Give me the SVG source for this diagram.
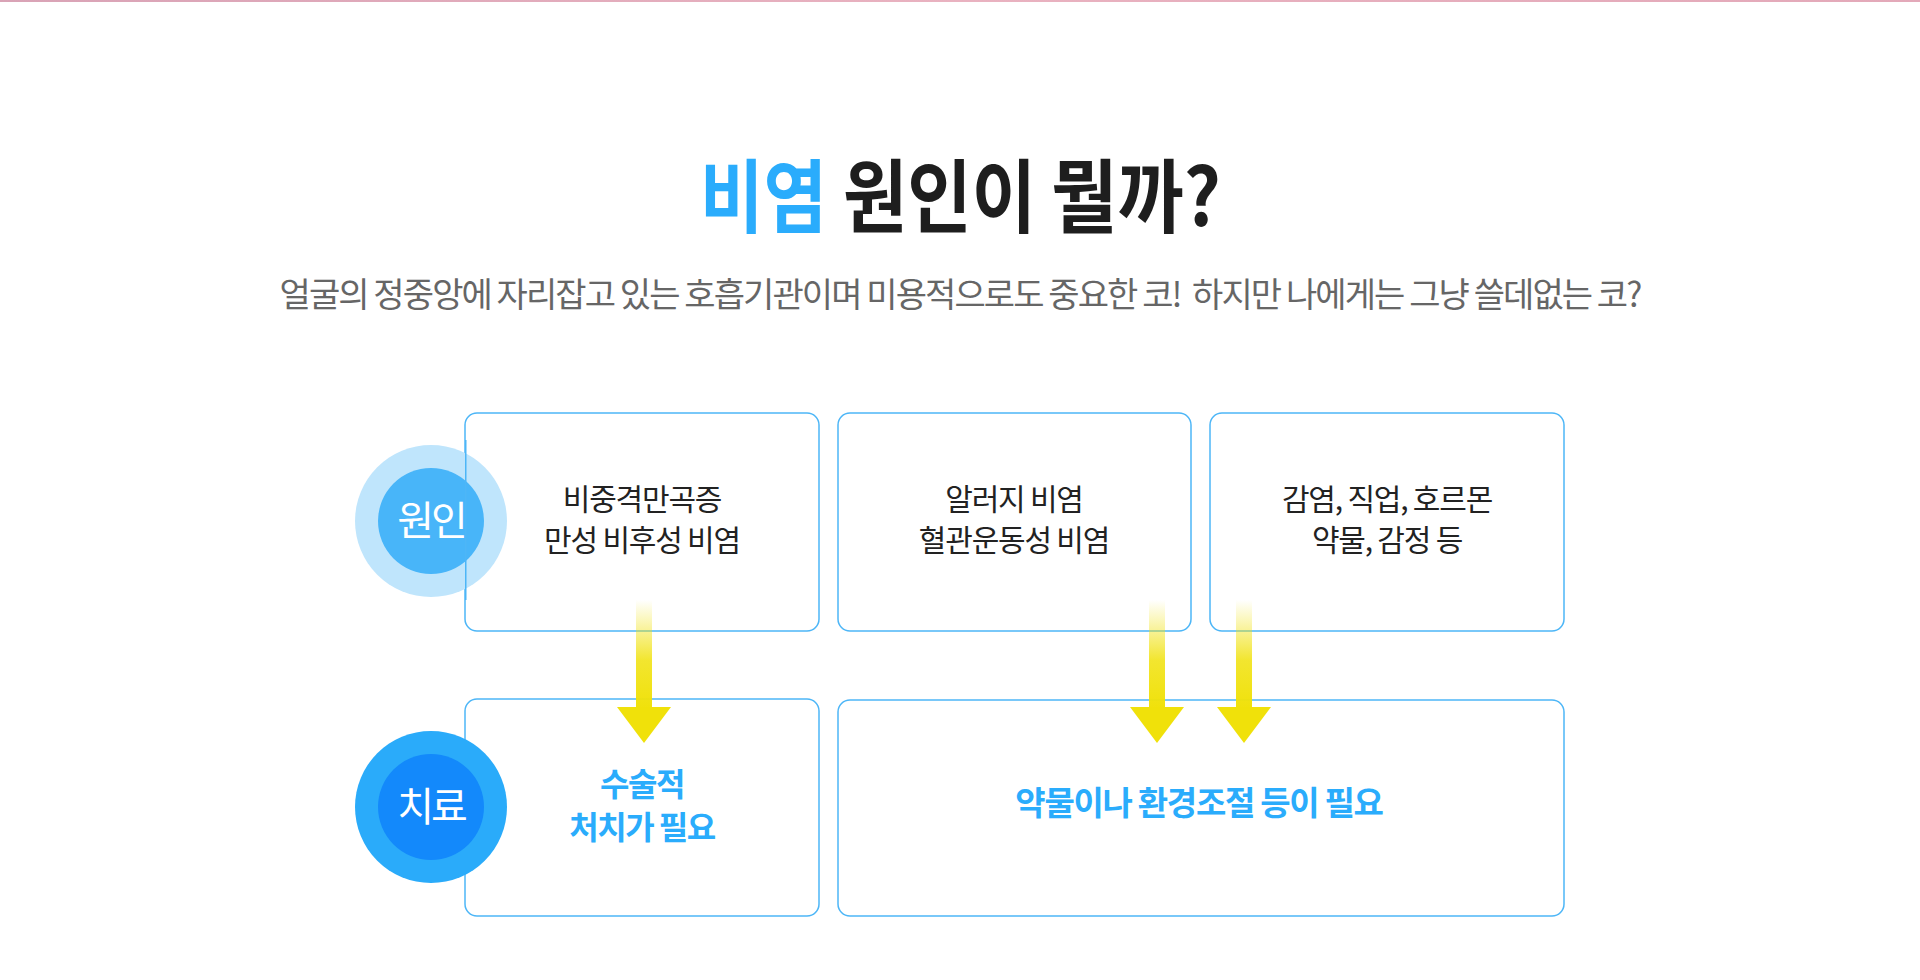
<svg xmlns="http://www.w3.org/2000/svg" width="1920" height="980" viewBox="0 0 1920 980">
  <defs>
    <linearGradient id="topline" x1="0" y1="0" x2="1" y2="0">
      <stop offset="0" stop-color="#d9a3b6"/>
      <stop offset="0.5" stop-color="#e9b2c0"/>
      <stop offset="1" stop-color="#e3a9b9"/>
    </linearGradient>
    <linearGradient id="shaft" x1="0" y1="0" x2="0" y2="1">
      <stop offset="0" stop-color="#f0e10a" stop-opacity="0"/>
      <stop offset="0.55" stop-color="#f0e10a" stop-opacity="0.85"/>
      <stop offset="1" stop-color="#f0e10a" stop-opacity="1"/>
    </linearGradient>
    <g id="arrow">
      <rect x="-8" y="0" width="16" height="110" fill="url(#shaft)"/>
      <polygon points="-27,107 27,107 0,143" fill="#f0e10a"/>
    </g>
  </defs>
  <style>
    .box { fill: #ffffff; stroke: #4db6f7; stroke-width: 1.5; }
    .boxline { fill: none; stroke: #4db6f7; stroke-width: 1.5; }
    .t { font-family: "Noto Sans CJK KR", "Noto Sans", sans-serif; text-anchor: middle; }
    .h { font-family: "Noto Sans CJK KR", "Noto Sans", sans-serif; font-size: 80px; font-weight: 700; }
    .cause { font-size: 30px; fill: #222222; letter-spacing: -1.2px; }
    .treat { font-size: 32px; font-weight: 700; fill: #2aacfc; letter-spacing: -1.5px; }
    .treat2 { font-size: 33px; font-weight: 700; fill: #2aacfc; letter-spacing: -1.3px; }
    .badge { font-size: 40px; fill: #ffffff; letter-spacing: -3px; }
  </style>

  <rect x="0" y="0" width="1920" height="2" fill="url(#topline)"/>

  <g id="title">
    <text class="h" x="700" y="226" fill="#2aacfc" textLength="127" lengthAdjust="spacingAndGlyphs">비염</text>
    <text class="h" x="843" y="226" fill="#1e1e1e" textLength="193" lengthAdjust="spacingAndGlyphs">원인이</text>
    <text class="h" x="1051" y="226" fill="#1e1e1e" textLength="170" lengthAdjust="spacingAndGlyphs">뭘까?</text>
  </g>
  <g id="subtitle">
    <text class="t" x="960" y="307" font-size="34" fill="#666666" letter-spacing="-1.9" style="white-space: pre">얼굴의 정중앙에 자리잡고 있는 호흡기관이며 미용적으로도 중요한 코!  하지만 나에게는 그냥 쓸데없는 코?</text>
  </g>

  <g id="cause-1">
    <rect class="box" x="465" y="413" width="354" height="218" rx="12"/>
    <text class="t cause" x="642" y="510">비중격만곡증</text>
    <text class="t cause" x="642" y="551">만성 비후성 비염</text>
  </g>
  <g id="cause-2">
    <rect class="box" x="838" y="413" width="353" height="218" rx="12"/>
    <text class="t cause" x="1014" y="510">알러지 비염</text>
    <text class="t cause" x="1014" y="551">혈관운동성 비염</text>
  </g>
  <g id="cause-3">
    <rect class="box" x="1210" y="413" width="354" height="218" rx="12"/>
    <text class="t cause" x="1387" y="510">감염, 직업, 호르몬</text>
    <text class="t cause" x="1387" y="551">약물, 감정 등</text>
  </g>

  <g id="treat-1">
    <rect class="box" x="465" y="699" width="354" height="217" rx="12"/>
    <text class="t treat" x="642" y="796">수술적</text>
    <text class="t treat" x="642" y="839">처치가 필요</text>
  </g>
  <g id="treat-2">
    <rect class="box" x="838" y="700" width="726" height="216" rx="12"/>
    <text class="t treat2" x="1199" y="815">약물이나 환경조절 등이 필요</text>
  </g>

  <g id="badge-cause">
    <circle cx="431" cy="521" r="76" fill="#bfe5fc"/>
    <circle cx="431" cy="521" r="53" fill="#48b5f9"/>
    <path class="boxline" d="M465.75 440 V600"/>
    <text class="t badge" x="431" y="535">원인</text>
  </g>
  <g id="badge-treat">
    <circle cx="431" cy="807" r="76" fill="#2aabfa"/>
    <circle cx="431" cy="807" r="53" fill="#1389fb"/>
    <text class="t badge" x="431" y="821">치료</text>
  </g>

  <g id="connectors">
    <use href="#arrow" x="644" y="600"/>
    <use href="#arrow" x="1157" y="600"/>
    <use href="#arrow" x="1244" y="600"/>
  </g>
</svg>
